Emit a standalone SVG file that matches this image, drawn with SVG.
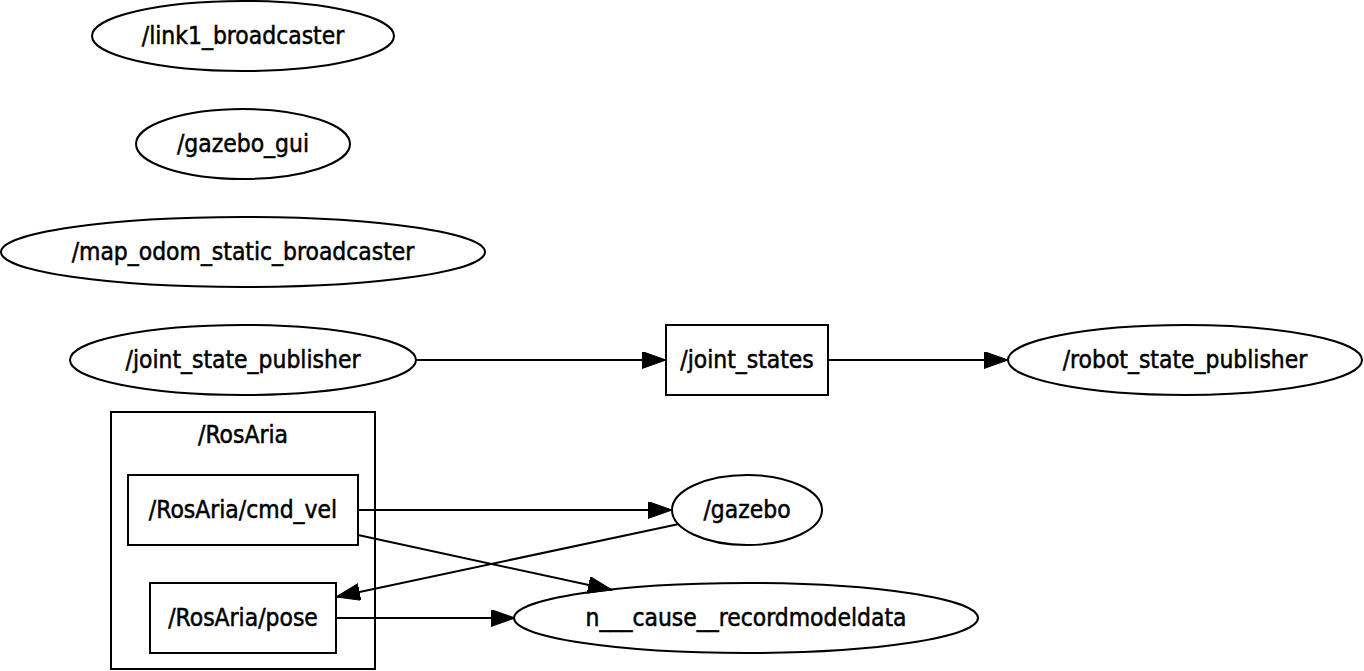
<svg xmlns="http://www.w3.org/2000/svg" width="1364" height="671" viewBox="0 0 1364 671">
<style>
.n{fill:#fff;stroke:#000;stroke-width:2}
.e{fill:none;stroke:#000;stroke-width:2}
text{font-family:"DejaVu Sans Condensed","DejaVu Sans",sans-serif;font-stretch:condensed;font-size:24.4px;text-anchor:middle;fill:#000;stroke:#000;stroke-width:0.5}
</style>
<defs>
<marker id="a" markerUnits="userSpaceOnUse" markerWidth="26" markerHeight="20" refX="24" refY="8.5" orient="auto">
<path d="M0,0 L24,8.5 L0,17 z" fill="#000" stroke="#000" stroke-width="1"/>
</marker>
</defs>
<rect width="1364" height="671" fill="#fff"/>
<g id="cluster_RosAria">
<rect x="111" y="412" width="264" height="257" class="n"/>
<text x="243" y="443">/RosAria</text>
</g>
<g id="link1_broadcaster"><ellipse cx="243" cy="36" rx="151" ry="35" class="n"/><text x="243" y="44">/link1_broadcaster</text></g>
<g id="gazebo_gui"><ellipse cx="243" cy="144" rx="107" ry="35" class="n"/><text x="243" y="152">/gazebo_gui</text></g>
<g id="map_odom_static_broadcaster"><ellipse cx="243" cy="252" rx="242" ry="35" class="n"/><text x="243" y="260">/map_odom_static_broadcaster</text></g>
<g id="joint_state_publisher"><ellipse cx="243" cy="360" rx="173" ry="35" class="n"/><text x="243" y="368">/joint_state_publisher</text></g>
<g id="joint_states"><rect x="666" y="325" width="162" height="70" class="n"/><text x="747" y="368">/joint_states</text></g>
<g id="robot_state_publisher"><ellipse cx="1185" cy="360" rx="177" ry="35" class="n"/><text x="1185" y="368">/robot_state_publisher</text></g>
<g id="RosAria_cmd_vel"><rect x="128" y="475" width="230" height="70" class="n"/><text x="243" y="518">/RosAria/cmd_vel</text></g>
<g id="RosAria_pose"><rect x="150" y="583" width="186" height="70" class="n"/><text x="243" y="626">/RosAria/pose</text></g>
<g id="gazebo"><ellipse cx="747" cy="510" rx="75" ry="35" class="n"/><text x="747" y="518">/gazebo</text></g>
<g id="n___cause__recordmodeldata"><ellipse cx="746" cy="618" rx="232" ry="35" class="n"/><text x="746" y="626">n___cause__recordmodeldata</text></g>
<g id="edges">
<line x1="416" y1="360" x2="666" y2="360" class="e" marker-end="url(#a)"/>
<line x1="828" y1="360" x2="1008" y2="360" class="e" marker-end="url(#a)"/>
<line x1="358" y1="510" x2="672" y2="510" class="e" marker-end="url(#a)"/>
<line x1="358" y1="535" x2="612" y2="590" class="e" marker-end="url(#a)"/>
<line x1="679" y1="524" x2="336" y2="597" class="e" marker-end="url(#a)"/>
<line x1="336" y1="618" x2="515" y2="618" class="e" marker-end="url(#a)"/>
</g>
</svg>
